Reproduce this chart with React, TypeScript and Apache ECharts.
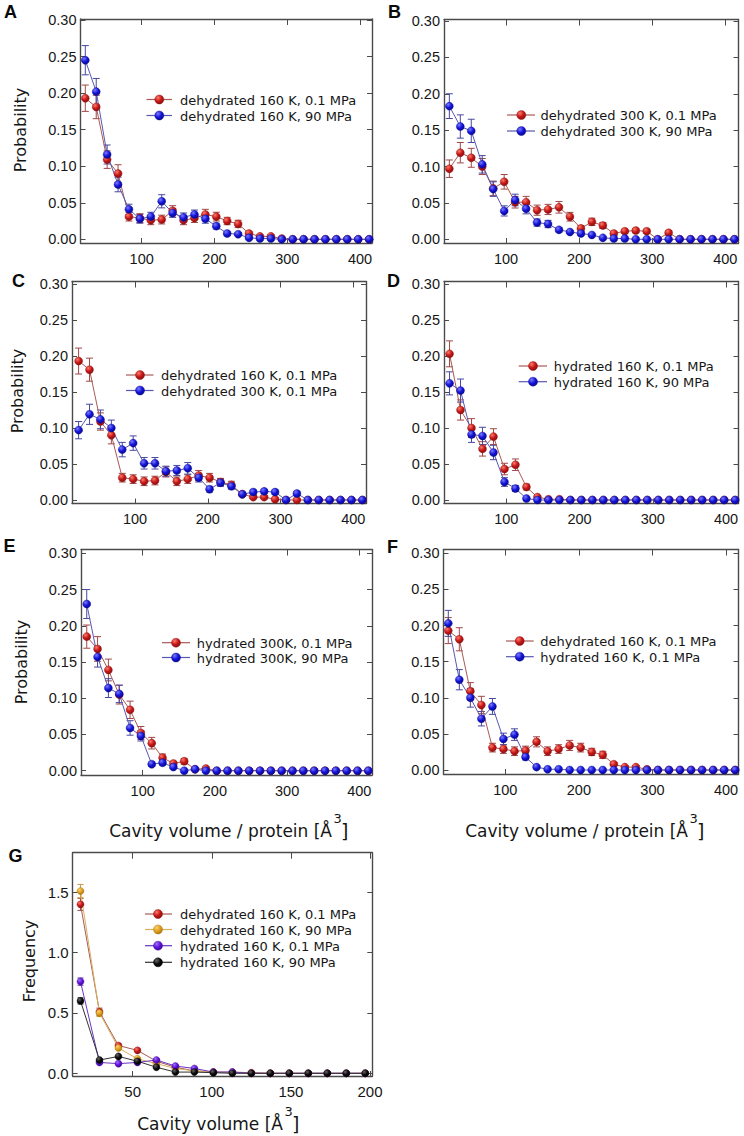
import React, { useEffect, useRef } from "react";
import * as echarts from "echarts";

// ---------- data ----------
const binCenters = [22.5, 37.5, 52.5, 67.5, 82.5, 97.5, 112.5, 127.5, 142.5, 157.5, 172.5, 187.5, 202.5, 217.5, 232.5, 247.5, 262.5, 277.5, 292.5, 307.5, 322.5, 337.5, 352.5, 367.5, 382.5, 397.5, 412.5];
const gBinCenters = [17, 29, 41, 53, 65, 77, 89, 101, 113, 125, 137, 149, 161, 173, 185, 197];

const xTicks = [100, 200, 300, 400];
const yTicks = [0, 0.05, 0.1, 0.15, 0.2, 0.25, 0.3];
const gXTicks = [50, 100, 150, 200];
const gYTicks = [0, 0.5, 1.0, 1.5];

// dehydrated 160 K, 0.1 MPa
const dehyd160Low = [0.193, 0.181, 0.109, 0.090, 0.031, 0.029, 0.026, 0.027, 0.039, 0.026, 0.029, 0.034, 0.031, 0.025, 0.021, 0.008, 0.004, 0.004, 0.001, 0, 0, 0, 0, 0, 0, 0, 0];
const dehyd160LowErr = [0.018, 0.016, 0.012, 0.012, 0.006, 0.006, 0.006, 0.006, 0.007, 0.006, 0.006, 0.007, 0.006, 0.005, 0.005, 0.002, 0.002, 0.002, 0.001, 0, 0, 0, 0, 0, 0, 0, 0];
// dehydrated 160 K, 90 MPa
const dehyd160High = [0.245, 0.202, 0.116, 0.075, 0.041, 0.028, 0.031, 0.052, 0.036, 0.030, 0.034, 0.028, 0.018, 0.008, 0.007, 0.002, 0.001, 0.001, 0, 0, 0, 0, 0, 0, 0, 0, 0];
const dehyd160HighErr = [0.020, 0.018, 0.013, 0.010, 0.007, 0.006, 0.006, 0.009, 0.006, 0.006, 0.006, 0.006, 0.004, 0.002, 0.002, 0.001, 0, 0, 0, 0, 0, 0, 0, 0, 0, 0, 0];
// dehydrated 300 K, 0.1 MPa
const dehyd300Low = [0.097, 0.119, 0.112, 0.100, 0.070, 0.079, 0.051, 0.051, 0.040, 0.041, 0.044, 0.031, 0.015, 0.024, 0.019, 0.008, 0.011, 0.012, 0.011, 0, 0.009, 0, 0, 0, 0, 0, 0];
const dehyd300LowErr = [0.012, 0.014, 0.013, 0.011, 0.010, 0.010, 0.008, 0.008, 0.007, 0.007, 0.008, 0.006, 0.004, 0.005, 0.004, 0.003, 0.003, 0.003, 0.003, 0, 0.003, 0, 0, 0, 0, 0, 0];
// dehydrated 300 K, 90 MPa
const dehyd300High = [0.183, 0.155, 0.149, 0.103, 0.069, 0.039, 0.054, 0.042, 0.023, 0.021, 0.013, 0.010, 0.008, 0.006, 0.002, 0.001, 0.001, 0, 0, 0, 0, 0, 0, 0, 0, 0, 0];
const dehyd300HighErr = [0.017, 0.016, 0.016, 0.012, 0.010, 0.007, 0.008, 0.007, 0.005, 0.005, 0.003, 0.002, 0.002, 0.001, 0, 0, 0, 0, 0, 0, 0, 0, 0, 0, 0, 0, 0];
// hydrated 160 K, 0.1 MPa
const hyd160Low = [0.203, 0.125, 0.100, 0.071, 0.088, 0.043, 0.049, 0.018, 0.004, 0.001, 0.001, 0, 0, 0, 0, 0, 0, 0, 0, 0, 0, 0, 0, 0, 0, 0, 0];
const hyd160LowErr = [0.018, 0.014, 0.013, 0.010, 0.011, 0.008, 0.008, 0.004, 0.002, 0, 0, 0, 0, 0, 0, 0, 0, 0, 0, 0, 0, 0, 0, 0, 0, 0, 0];
// hydrated 160 K, 90 MPa
const hyd160High = [0.162, 0.152, 0.091, 0.089, 0.066, 0.025, 0.016, 0.002, 0, 0, 0, 0, 0, 0, 0, 0, 0, 0, 0, 0, 0, 0, 0, 0, 0, 0, 0];
const hyd160HighErr = [0.016, 0.016, 0.011, 0.012, 0.010, 0.006, 0.004, 0.001, 0, 0, 0, 0, 0, 0, 0, 0, 0, 0, 0, 0, 0, 0, 0, 0, 0, 0, 0];
// hydrated 300K, 0.1 MPa
const hyd300Low = [0.185, 0.168, 0.139, 0.105, 0.084, 0.052, 0.038, 0.018, 0.010, 0.013, 0.002, 0.003, 0, 0, 0, 0, 0, 0, 0, 0, 0, 0, 0, 0, 0, 0, 0];
const hyd300LowErr = [0.016, 0.017, 0.015, 0.013, 0.012, 0.009, 0.008, 0.005, 0.003, 0.004, 0.001, 0.002, 0, 0, 0, 0, 0, 0, 0, 0, 0, 0, 0, 0, 0, 0, 0];
// hydrated 300K, 90 MPa
const hyd300High = [0.230, 0.157, 0.114, 0.106, 0.059, 0.048, 0.009, 0.011, 0.005, 0, 0.002, 0, 0, 0, 0, 0, 0, 0, 0, 0, 0, 0, 0, 0, 0, 0, 0];
const hyd300HighErr = [0.020, 0.014, 0.013, 0.012, 0.010, 0.007, 0.003, 0.003, 0.002, 0, 0.001, 0, 0, 0, 0, 0, 0, 0, 0, 0, 0, 0, 0, 0, 0, 0, 0];

// panel G (frequency)
const gDehydLow = [1.40, 0.51, 0.23, 0.19, 0.10, 0.05, 0.02, 0.01, 0.01, 0.005, 0, 0, 0, 0, 0, 0];
const gDehydLowErr = [0.05, 0.03, 0.015, 0.012, 0.008, 0.005, 0.003, 0.002, 0.002, 0, 0, 0, 0, 0, 0, 0];
const gDehydHigh = [1.51, 0.50, 0.21, 0.12, 0.08, 0.04, 0.02, 0.01, 0.005, 0, 0, 0, 0, 0, 0, 0];
const gDehydHighErr = [0.055, 0.03, 0.015, 0.01, 0.008, 0.005, 0.003, 0.002, 0, 0, 0, 0, 0, 0, 0, 0];
const gHydLow = [0.76, 0.09, 0.08, 0.09, 0.11, 0.06, 0.04, 0.01, 0.01, 0, 0, 0, 0, 0, 0, 0];
const gHydLowErr = [0.03, 0.008, 0.006, 0.006, 0.008, 0.006, 0.004, 0.002, 0.002, 0, 0, 0, 0, 0, 0, 0];
const gHydHigh = [0.60, 0.11, 0.14, 0.10, 0.05, 0.01, 0.01, 0.005, 0, 0, 0, 0, 0, 0, 0, 0];
const gHydHighErr = [0.025, 0.008, 0.008, 0.006, 0.004, 0.002, 0.002, 0, 0, 0, 0, 0, 0, 0, 0, 0];

// ---------- styles ----------
type Palette = { hi: string; fill: string; edge: string; line: string; err: string };
const RED: Palette = { hi: "#ff7a6a", fill: "#c41616", edge: "#8a1010", line: "#a85a55", err: "#a04848" };
const BLUE: Palette = { hi: "#7a7aff", fill: "#1212d8", edge: "#0a0a90", line: "#5858b0", err: "#4848a0" };
const GOLD: Palette = { hi: "#ffd070", fill: "#dc9e1c", edge: "#a87410", line: "#d8b060", err: "#c89a40" };
const PURPLE: Palette = { hi: "#a070ff", fill: "#6010d8", edge: "#40089a", line: "#6a34c4", err: "#6030b0" };
const BLACK: Palette = { hi: "#666666", fill: "#0a0a0a", edge: "#000000", line: "#333333", err: "#222222" };

const TICK_FONT = '"Liberation Sans", Arial, sans-serif';
const TEXT_FONT = '"DejaVu Sans", "Noto Sans", sans-serif';
const AXIS_COLOR = "#4a4a4a";
const TEXT_COLOR = "#161616";

type SeriesDef = { name: string; vals: number[]; errs: number[]; pal: Palette };
type Panel = {
  letter: string;
  letterPos: [number, number];
  left: number; right: number; top: number; bottom: number;
  xRef: [number, number, number, number]; // px, value, px, value
  yRef: [number, number, number, number]; // px, value, px, value
  xs: number[];
  xTickVals: number[];
  yTickVals: number[];
  yFmt: (v: number) => string;
  series: SeriesDef[];
  legend: { rows: number[]; lx1: number; lx2: number; mx: number; tx: number };
  tickFont: number;
  symbolSize: number;
};

const fmt2 = (v: number) => v.toFixed(2);
const fmt1 = (v: number) => v.toFixed(1);

const panels: Panel[] = [
  {
    letter: "A", letterPos: [10.5, 12],
    left: 80.5, right: 372, top: 19, bottom: 243,
    xRef: [141.7, 100, 360, 400], yRef: [239.3, 0, 20, 0.3],
    xs: binCenters, xTickVals: xTicks, yTickVals: yTicks, yFmt: fmt2,
    series: [
      { name: "dehydrated 160 K, 0.1 MPa", vals: dehyd160Low, errs: dehyd160LowErr, pal: RED },
      { name: "dehydrated 160 K, 90 MPa", vals: dehyd160High, errs: dehyd160HighErr, pal: BLUE },
    ],
    legend: { rows: [99.5, 115.5], lx1: 146.5, lx2: 172, mx: 159.3, tx: 180 },
    tickFont: 14.5, symbolSize: 8,
  },
  {
    letter: "B", letterPos: [394.5, 12],
    left: 444, right: 738.5, top: 19.5, bottom: 243,
    xRef: [506, 100, 725.3, 400], yRef: [239.3, 0, 21, 0.3],
    xs: binCenters, xTickVals: xTicks, yTickVals: yTicks, yFmt: fmt2,
    series: [
      { name: "dehydrated 300 K, 0.1 MPa", vals: dehyd300Low, errs: dehyd300LowErr, pal: RED },
      { name: "dehydrated 300 K, 90 MPa", vals: dehyd300High, errs: dehyd300HighErr, pal: BLUE },
    ],
    legend: { rows: [115, 131], lx1: 507, lx2: 535, mx: 521.3, tx: 540.5 },
    tickFont: 14.5, symbolSize: 8,
  },
  {
    letter: "C", letterPos: [18.5, 281],
    left: 72, right: 366, top: 281.5, bottom: 503.5,
    xRef: [135, 100, 353.3, 400], yRef: [500, 0, 284, 0.3],
    xs: binCenters, xTickVals: xTicks, yTickVals: yTicks, yFmt: fmt2,
    series: [
      { name: "dehydrated 160 K, 0.1 MPa", vals: dehyd160Low, errs: dehyd160LowErr, pal: RED },
      { name: "dehydrated 300 K, 0.1 MPa", vals: dehyd300Low, errs: dehyd300LowErr, pal: BLUE },
    ],
    legend: { rows: [375, 390.5], lx1: 126, lx2: 153.5, mx: 140, tx: 161 },
    tickFont: 14.5, symbolSize: 8,
  },
  {
    letter: "D", letterPos: [393.5, 281],
    left: 444, right: 738.5, top: 281.5, bottom: 503.5,
    xRef: [506.3, 100, 726, 400], yRef: [500, 0, 284, 0.3],
    xs: binCenters, xTickVals: xTicks, yTickVals: yTicks, yFmt: fmt2,
    series: [
      { name: "hydrated 160 K, 0.1 MPa", vals: hyd160Low, errs: hyd160LowErr, pal: RED },
      { name: "hydrated 160 K, 90 MPa", vals: hyd160High, errs: hyd160HighErr, pal: BLUE },
    ],
    legend: { rows: [366, 381.7], lx1: 518.7, lx2: 547, mx: 533, tx: 553.7 },
    tickFont: 14.5, symbolSize: 8,
  },
  {
    letter: "E", letterPos: [9.5, 546],
    left: 81, right: 372, top: 549.5, bottom: 775,
    xRef: [142.7, 100, 359.3, 400], yRef: [770.7, 0, 553.3, 0.3],
    xs: binCenters, xTickVals: xTicks, yTickVals: yTicks, yFmt: fmt2,
    series: [
      { name: "hydrated 300K, 0.1 MPa", vals: hyd300Low, errs: hyd300LowErr, pal: RED },
      { name: "hydrated 300K, 90 MPa", vals: hyd300High, errs: hyd300HighErr, pal: BLUE },
    ],
    legend: { rows: [642.7, 657.5], lx1: 162, lx2: 190, mx: 176, tx: 196.7 },
    tickFont: 14.5, symbolSize: 8,
  },
  {
    letter: "F", letterPos: [392.5, 546.5],
    left: 443.5, right: 738.5, top: 549.5, bottom: 774,
    xRef: [505.3, 100, 726, 400], yRef: [770, 0, 553.3, 0.3],
    xs: binCenters, xTickVals: xTicks, yTickVals: yTicks, yFmt: fmt2,
    series: [
      { name: "dehydrated 160 K, 0.1 MPa", vals: dehyd160Low, errs: dehyd160LowErr, pal: RED },
      { name: "hydrated 160 K, 0.1 MPa", vals: hyd160Low, errs: hyd160LowErr, pal: BLUE },
    ],
    legend: { rows: [641, 656.7], lx1: 506, lx2: 533.7, mx: 519.7, tx: 540.3 },
    tickFont: 14.5, symbolSize: 8,
  },
  {
    letter: "G", letterPos: [15.5, 855.5],
    left: 72.7, right: 372.3, top: 852.7, bottom: 1076,
    xRef: [132.7, 50, 370, 200], yRef: [1073.3, 0, 892.3, 1.5],
    xs: gBinCenters, xTickVals: gXTicks, yTickVals: gYTicks, yFmt: fmt1,
    series: [
      { name: "dehydrated 160 K, 0.1 MPa", vals: gDehydLow, errs: gDehydLowErr, pal: RED },
      { name: "dehydrated 160 K, 90 MPa", vals: gDehydHigh, errs: gDehydHighErr, pal: GOLD },
      { name: "hydrated 160 K, 0.1 MPa", vals: gHydLow, errs: gHydLowErr, pal: PURPLE },
      { name: "hydrated 160 K, 90 MPa", vals: gHydHigh, errs: gHydHighErr, pal: BLACK },
    ],
    legend: { rows: [914, 929.5, 945.7, 962.3], lx1: 145, lx2: 172, mx: 158, tx: 180 },
    tickFont: 15, symbolSize: 7,
  },
];

const grad = (p: Palette) =>
  new echarts.graphic.RadialGradient(0.35, 0.3, 0.75, [
    { offset: 0, color: p.hi },
    { offset: 0.55, color: p.fill },
    { offset: 1, color: p.edge },
  ]);

function buildOption() {
  const grid: any[] = [];
  const xAxis: any[] = [];
  const yAxis: any[] = [];
  const series: any[] = [];
  const graphic: any[] = [];

  panels.forEach((p, i) => {
    const kx = (p.xRef[2] - p.xRef[0]) / (p.xRef[3] - p.xRef[1]);
    const xMin = p.xRef[1] - (p.xRef[0] - p.left) / kx;
    const xMax = p.xRef[3] + (p.right - p.xRef[2]) / kx;
    const ky = (p.yRef[0] - p.yRef[2]) / (p.yRef[3] - p.yRef[1]);
    const yMin = p.yRef[1] - (p.bottom - p.yRef[0]) / ky;
    const yMax = p.yRef[3] + (p.yRef[2] - p.top) / ky;

    grid.push({
      left: p.left, top: p.top, width: p.right - p.left, height: p.bottom - p.top,
      containLabel: false, outerBoundsMode: "none", show: false,
    });

    const line = { show: true, onZero: false, lineStyle: { color: AXIS_COLOR, width: 1.4 } };
    const tick = (vals: number[], len: number) => ({
      show: true, inside: true, length: len, customValues: vals,
      lineStyle: { color: AXIS_COLOR, width: 1 },
    });
    const label = (vals: number[], margin: number, fmt?: (v: number) => string) => ({
      show: true, customValues: vals, fontSize: p.tickFont, fontFamily: TICK_FONT,
      color: TEXT_COLOR, margin, formatter: fmt,
    });

    xAxis.push({
      type: "value", gridIndex: i, position: "bottom", min: xMin, max: xMax,
      axisLine: line, axisTick: tick(p.xTickVals, 5), axisLabel: label(p.xTickVals, 8),
      splitLine: { show: false },
    });
    xAxis.push({
      type: "value", gridIndex: i, position: "top", min: xMin, max: xMax,
      axisLine: line, axisTick: tick(p.xTickVals, 6), axisLabel: { show: false },
      splitLine: { show: false },
    });
    yAxis.push({
      type: "value", gridIndex: i, position: "left", min: yMin, max: yMax,
      axisLine: line, axisTick: tick(p.yTickVals, 5), axisLabel: label(p.yTickVals, 4, p.yFmt),
      splitLine: { show: false },
    });
    yAxis.push({
      type: "value", gridIndex: i, position: "right", min: yMin, max: yMax,
      axisLine: line, axisTick: tick(p.yTickVals, 5), axisLabel: { show: false },
      splitLine: { show: false },
    });

    p.series.forEach((s) => {
      const pal = s.pal;
      series.push({
        type: "custom",
        xAxisIndex: 2 * i, yAxisIndex: 2 * i,
        data: p.xs.map((x, j) => [x, s.vals[j], s.errs[j]]),
        encode: { x: 0, y: 1 },
        z: 2, silent: true, clip: true,
        renderItem: (_params: any, api: any) => {
          const x = api.value(0);
          const y = api.value(1);
          const e = api.value(2);
          if (!(e > 0)) return null;
          const a = api.coord([x, y + e]);
          const b = api.coord([x, y - e]);
          const w = p.symbolSize === 7 ? 3 : 3.5;
          const st = { stroke: pal.err, lineWidth: 1 };
          return {
            type: "group",
            children: [
              { type: "line", shape: { x1: a[0], y1: a[1], x2: b[0], y2: b[1] }, style: st },
              { type: "line", shape: { x1: a[0] - w, y1: a[1], x2: a[0] + w, y2: a[1] }, style: st },
              { type: "line", shape: { x1: b[0] - w, y1: b[1], x2: b[0] + w, y2: b[1] }, style: st },
            ],
          };
        },
      });
      series.push({
        type: "line",
        name: s.name,
        xAxisIndex: 2 * i, yAxisIndex: 2 * i,
        data: p.xs.map((x, j) => [x, s.vals[j]]),
        symbol: "circle", symbolSize: p.symbolSize, showAllSymbol: true,
        lineStyle: { color: pal.line, width: 1 },
        itemStyle: { color: grad(pal), borderColor: pal.edge, borderWidth: 0.4 },
        emphasis: { disabled: true },
        z: 3, clip: true,
      });
    });

    // panel letter
    graphic.push({
      type: "text", x: p.letterPos[0], y: p.letterPos[1], silent: true,
      style: {
        text: p.letter, fontSize: 18, fontWeight: "bold", fontFamily: '"Liberation Sans", Arial, sans-serif',
        fill: "#0a0a0a", textAlign: "center", textVerticalAlign: "middle", align: "center", verticalAlign: "middle",
      },
    });

    // legend
    p.series.forEach((s, j) => {
      const y = p.legend.rows[j];
      graphic.push({
        type: "line", silent: true, z: 10,
        shape: { x1: p.legend.lx1, y1: y, x2: p.legend.lx2, y2: y },
        style: { stroke: s.pal.line, lineWidth: 1.2 },
      });
      graphic.push({
        type: "circle", silent: true, z: 11,
        shape: { cx: p.legend.mx, cy: y, r: 4.5 },
        style: { fill: grad(s.pal), stroke: s.pal.edge, lineWidth: 0.4 },
      });
      graphic.push({
        type: "text", silent: true, z: 11, x: p.legend.tx, y: y + 0.5,
        style: {
          text: s.name, fontSize: 13, fontFamily: TEXT_FONT, fill: TEXT_COLOR,
          textAlign: "left", textVerticalAlign: "middle", align: "left", verticalAlign: "middle",
        },
      });
    });
  });

  // y-axis titles
  const yTitle = (text: string, x: number, y: number) => ({
    type: "text", x, y, rotation: Math.PI / 2, silent: true,
    style: {
      text, fontSize: 16, fontFamily: TEXT_FONT, fill: TEXT_COLOR,
      textAlign: "center", textVerticalAlign: "middle", align: "center", verticalAlign: "middle",
    },
  });
  graphic.push(yTitle("Probability", 20, 130));
  graphic.push(yTitle("Probability", 17.5, 391));
  graphic.push(yTitle("Probability", 21.5, 662));
  graphic.push(yTitle("Frequency", 29, 961));

  // x-axis titles with superscript
  const xTitle = (main: string, endX: number, baseY: number) => [
    {
      type: "text", x: endX, y: baseY, silent: true,
      style: {
        text: main, fontSize: 17, fontFamily: TEXT_FONT, fill: TEXT_COLOR,
        textAlign: "right", textVerticalAlign: "bottom", align: "right", verticalAlign: "bottom",
      },
    },
    {
      type: "text", x: endX + 1.5, y: baseY - 14, silent: true,
      style: {
        text: "3", fontSize: 13, fontFamily: TEXT_FONT, fill: TEXT_COLOR,
        textAlign: "left", textVerticalAlign: "bottom", align: "left", verticalAlign: "bottom",
      },
    },
    {
      type: "text", x: endX + 9, y: baseY + 1, silent: true,
      style: {
        text: "]", fontSize: 19, fontFamily: TEXT_FONT, fill: TEXT_COLOR,
        textAlign: "left", textVerticalAlign: "bottom", align: "left", verticalAlign: "bottom",
      },
    },
  ];
  graphic.push(...xTitle("Cavity volume / protein [Å", 332, 839));
  graphic.push(...xTitle("Cavity volume / protein [Å", 688, 839));
  graphic.push(...xTitle("Cavity volume [Å", 283, 1132));

  return {
    animation: false,
    backgroundColor: "#ffffff",
    grid, xAxis, yAxis, series, graphic,
  };
}

export default function App() {
  const ref = useRef<HTMLDivElement>(null);
  useEffect(() => {
    if (!ref.current) return;
    const chart = echarts.init(ref.current, undefined, { renderer: "svg" });
    chart.setOption(buildOption() as any);
    return () => chart.dispose();
  }, []);
  return (
    <div
      ref={ref}
      style={{ position: "absolute", left: 0, top: 0, width: 744, height: 1136, background: "#fff" }}
    />
  );
}
